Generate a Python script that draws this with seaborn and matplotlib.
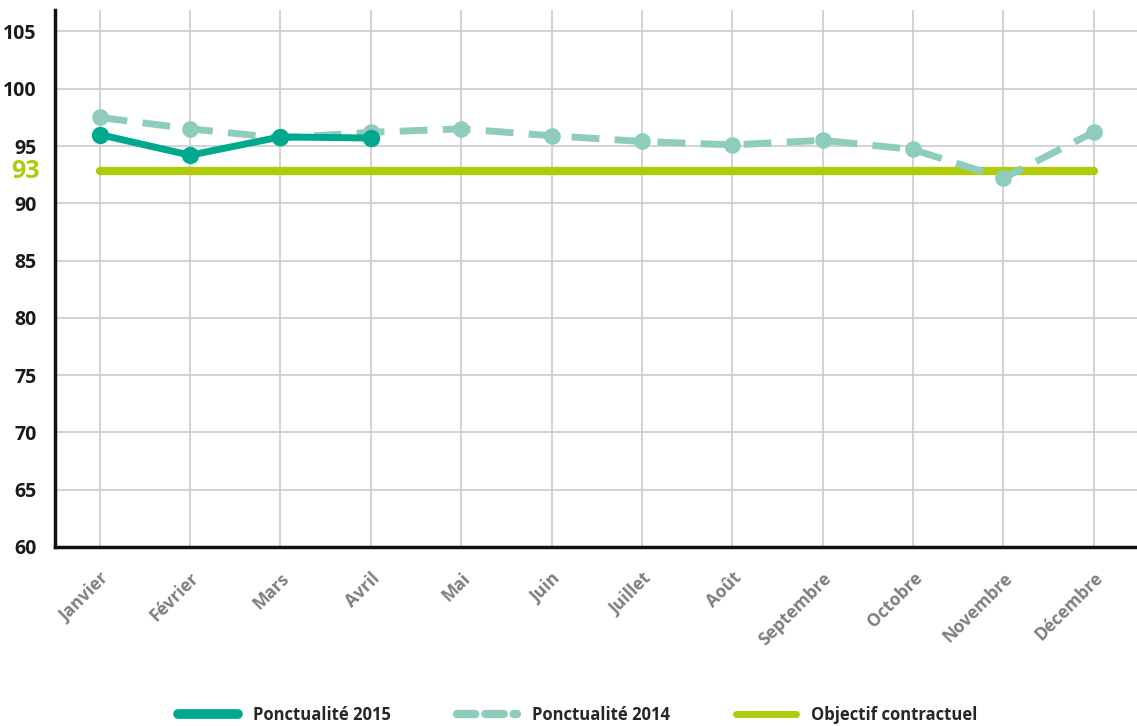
import matplotlib
matplotlib.use("Agg")
import matplotlib.pyplot as plt
import seaborn as sns
import pandas as pd
from matplotlib.lines import Line2D

### Data ###
mois = ["Janvier", "Février", "Mars", "Avril", "Mai", "Juin", "Juillet",
        "Août", "Septembre", "Octobre", "Novembre", "Décembre"]
ponct_2015 = [96.0, 94.2, 95.8, 95.7]
ponct_2014 = [97.5, 96.5, 95.7, 96.2, 96.5, 95.9, 95.4, 95.1, 95.5, 94.7, 92.2, 96.2]
objectif = 92.8
y_ticks = [60, 65, 70, 75, 80, 85, 90, 95, 100, 105]

C2015 = "#00a88e"
C2014 = "#8ecdbd"
COBJ = "#b0cb0b"

sns.set_style("whitegrid")
plt.rcParams['font.family'] = ['Open Sans', 'DejaVu Sans']

fig = plt.figure(figsize=(11.37, 7.26), dpi=100)
ax = fig.add_axes([0.048, 0.2466, 0.952, 0.74])

x_all = list(range(len(mois)))
df14 = pd.DataFrame({"x": x_all, "y": ponct_2014})
df15 = pd.DataFrame({"x": x_all[:len(ponct_2015)], "y": ponct_2015})
dfobj = pd.DataFrame({"x": x_all, "y": [objectif] * len(mois)})

sns.lineplot(data=dfobj, x="x", y="y", ax=ax, color=COBJ, linewidth=6, zorder=2)
sns.lineplot(data=df14, x="x", y="y", ax=ax, color=C2014, linewidth=5,
             dashes=False, zorder=3)
ax.lines[-1].set_dashes([4, 2.2])
ax.lines[-1].set_marker("o")
ax.lines[-1].set_markersize(12)
ax.lines[-1].set_markeredgewidth(0)
sns.lineplot(data=df15, x="x", y="y", ax=ax, color=C2015, linewidth=5,
             marker="o", markersize=12.5, markeredgewidth=0, zorder=4)

ax.set_xlim(-0.5, 11.48)
ax.set_ylim(60, 106.9)
ax.set_xticks(x_all)
ax.set_xticklabels(mois, rotation=45, ha="right", rotation_mode="anchor",
                   color="#7f7f7f", fontsize=12.5, fontweight="bold")
ax.set_yticks(y_ticks)
ax.set_yticklabels([str(v) for v in y_ticks], fontsize=14, fontweight="bold", color="#1a1a1a")
ax.tick_params(axis="x", pad=16, length=0)
ax.tick_params(axis="y", pad=13, length=0)
ax.set_xlabel("")
ax.set_ylabel("")

ax.grid(True, color="#cccccc", linewidth=1.2)
for side in ["top", "right"]:
    ax.spines[side].set_visible(False)
for side in ["left", "bottom"]:
    ax.spines[side].set_visible(True)
    ax.spines[side].set_color("#111111")
    ax.spines[side].set_linewidth(2.5)

# target label on the y axis
ax.text(-0.014, objectif, "93", transform=ax.get_yaxis_transform(), ha="right", va="center",
        color=COBJ, fontsize=18, fontweight="bold")

### Legend ###
handles = [
    Line2D([0], [0], color=C2015, linewidth=7, solid_capstyle="round"),
    Line2D([0], [0], color=C2014, linewidth=6, dashes=[2.2, 1.2], dash_capstyle="round"),
    Line2D([0], [0], color=COBJ, linewidth=5, solid_capstyle="round"),
]
labels = ["Ponctualité 2015", "Ponctualité 2014", "Objectif contractuel"]
leg = fig.legend(handles, labels, loc="lower center", bbox_to_anchor=(0.508, -0.018), ncol=3,
                 frameon=False, handlelength=3.6, handletextpad=0.9, columnspacing=3.95,
                 prop={"weight": "bold", "size": 12})

fig.savefig("out.png", dpi=100)
